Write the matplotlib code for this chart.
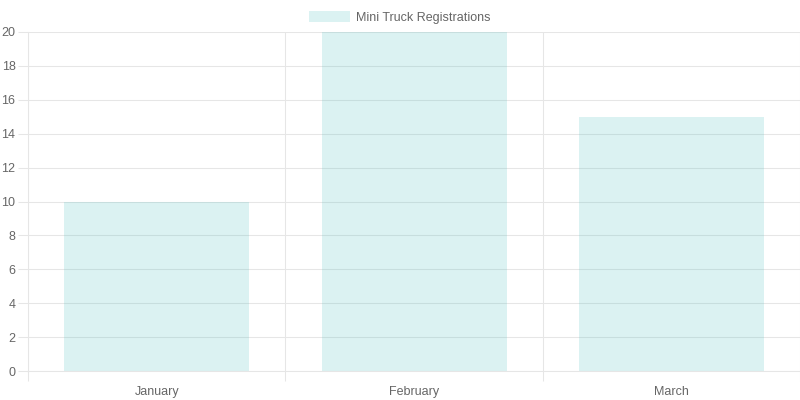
import matplotlib.pyplot as plt
import numpy as np

plt.rcParams['font.family'] = ['Liberation Sans', 'DejaVu Sans']

months = ['January', 'February', 'March']
registrations = [10, 20, 15]
series_name = 'Mini Truck Registrations'

fill = (75/255, 192/255, 192/255, 0.2)
grid_c = '#e6e6e6'
text_c = '#666666'

fig = plt.figure(figsize=(8, 4), dpi=100)
ax = fig.add_axes([28/800, 29/400, 772.5/800, 339/400])

x = np.arange(len(months))
ax.bar(x, registrations, width=0.72, color=fill, linewidth=0, label=series_name, zorder=2)

ax.set_xlim(-0.5, len(months) - 0.5)
ax.set_ylim(0, 20)
ax.set_yticks(np.arange(0, 21, 2))
ax.set_xticks(x)
ax.set_xticklabels(months)
ax.set_xticks(np.arange(-0.5, len(months)), minor=True)

ax.grid(True, which='major', axis='y', color=grid_c, linewidth=0.75, zorder=0)
ax.grid(True, which='minor', axis='x', color=grid_c, linewidth=0.75, zorder=0)
ax.tick_params(axis='x', which='major', length=0, pad=11, labelsize=9, labelcolor=text_c)
ax.tick_params(axis='x', which='minor', length=7, color=grid_c, width=0.75)
ax.tick_params(axis='y', length=7, color=grid_c, width=0.75, pad=2, labelsize=9, labelcolor=text_c)

for side in ['top', 'right']:
    ax.spines[side].set_visible(False)
for side in ['left', 'bottom']:
    ax.spines[side].set_color(grid_c)
    ax.spines[side].set_linewidth(0.75)

leg = fig.legend(loc='upper center', bbox_to_anchor=(0.5, 1.0), frameon=False,
                 fontsize=9, labelcolor=text_c, handlelength=3.3, handleheight=0.9,
                 handletextpad=0.5, borderaxespad=0.5)

fig.savefig('out.png', dpi=100)
